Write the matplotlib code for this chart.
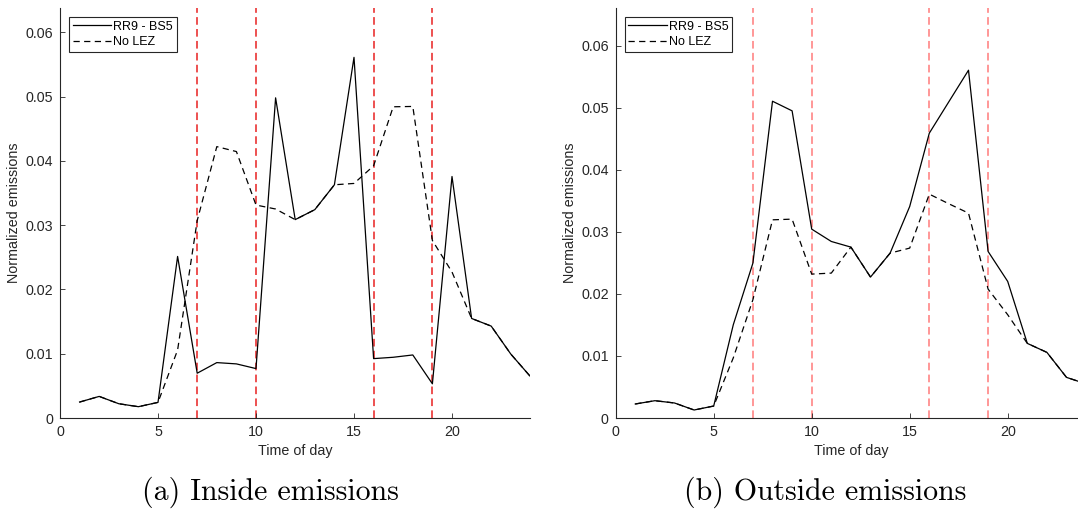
import matplotlib
matplotlib.use("Agg")
import matplotlib.pyplot as plt

# hours of the day
hours = list(range(1, 25))

# inside emissions (a)
inside_rr9 = [0.00248, 0.00336, 0.00222, 0.00176, 0.00243, 0.02514, 0.00697, 0.00862,
              0.00842, 0.00769, 0.04982, 0.03087, 0.03242, 0.03629, 0.05612, 0.00924,
              0.00945, 0.00981, 0.00532, 0.03758, 0.01549, 0.01430, 0.00995, 0.00645]
inside_nolez = [0.00248, 0.00336, 0.00222, 0.00176, 0.00243, 0.01058, 0.03072, 0.04223,
                0.04146, 0.03314, 0.03252, 0.03087, 0.03242, 0.03629, 0.03650, 0.03924,
                0.04843, 0.04848, 0.02762, 0.02272, 0.01549, 0.01430, 0.00995, 0.00645]

# outside emissions (b)
outside_rr9 = [0.00226, 0.00279, 0.00242, 0.00129, 0.00193, 0.01504, 0.02497, 0.05107,
               0.04952, 0.03045, 0.02846, 0.02755, 0.02272, 0.02658, 0.03410, 0.04592,
               0.05100, 0.05607, 0.02685, 0.02202, 0.01203, 0.01058, 0.00655, 0.00550]
outside_nolez = [0.00226, 0.00279, 0.00242, 0.00129, 0.00193, 0.00970, 0.01907, 0.03195,
                 0.03206, 0.02320, 0.02336, 0.02755, 0.02272, 0.02658, 0.02739, 0.03609,
                 0.03453, 0.03303, 0.02078, 0.01665, 0.01203, 0.01058, 0.00655, 0.00550]

# LEZ time windows (vertical markers)
lez_hours = [7, 10, 16, 19]

xticks = [0, 5, 10, 15, 20]
yticks = [0, 0.01, 0.02, 0.03, 0.04, 0.05, 0.06]
ytick_labels = ["0", "0.01", "0.02", "0.03", "0.04", "0.05", "0.06"]

W, H = 1078, 512
fig = plt.figure(figsize=(W / 100, H / 100), dpi=100)
plt.rcParams['font.family'] = ['Liberation Sans', 'DejaVu Sans']

axcol = '#262626'


def draw(ax, rr9, nolez, ymax, redcol, caption, cap_x):
    for h in lez_hours:
        ax.axvline(h, color=redcol, lw=1.1, linestyle=(0, (5, 2.8)), zorder=1)
    ax.plot(hours, rr9, color='black', lw=0.9, label='RR9 - BS5', zorder=3)
    ax.plot(hours, nolez, color='black', lw=0.9, linestyle=(0, (5, 3.5)), label='No LEZ', zorder=2)
    ax.set_xlim(0, 24)
    ax.set_ylim(0, ymax)
    ax.set_xticks(xticks)
    ax.set_yticks(yticks)
    ax.set_yticklabels(ytick_labels)
    for s in ['top', 'right']:
        ax.spines[s].set_visible(False)
    for s in ['left', 'bottom']:
        ax.spines[s].set_color(axcol)
        ax.spines[s].set_linewidth(0.8)
    ax.tick_params(direction='in', length=3.5, width=0.6, colors=axcol, labelsize=10.3, pad=5)
    ax.set_xlabel('Time of day', fontsize=10.3, color=axcol, labelpad=4)
    ax.set_ylabel('Normalized emissions', fontsize=10.3, color=axcol, labelpad=3)
    leg = ax.legend(loc='upper left', bbox_to_anchor=(0.019, 0.978), fontsize=9,
                    handlelength=3.1, handletextpad=0.15, borderpad=0.3, labelspacing=0.25,
                    fancybox=False, framealpha=1, edgecolor=axcol, borderaxespad=0)
    leg.get_frame().set_linewidth(0.8)
    fig.text(cap_x / W, 1 - 500 / H, caption, fontfamily='cmr10', fontsize=21.5,
             ha='center', va='baseline')


axw = 470.4 / W
axh = 410 / H
ax1 = fig.add_axes([60 / W, 1 - 418 / H, axw, axh])
ax2 = fig.add_axes([615.7 / W, 1 - 418 / H, axw, axh])

draw(ax1, inside_rr9, inside_nolez, 0.0638, '#e82020', '(a) Inside emissions', 270)
draw(ax2, outside_rr9, outside_nolez, 0.0661, '#ff7a7a', '(b) Outside emissions', 825)

fig.savefig('out.png', dpi=100)
